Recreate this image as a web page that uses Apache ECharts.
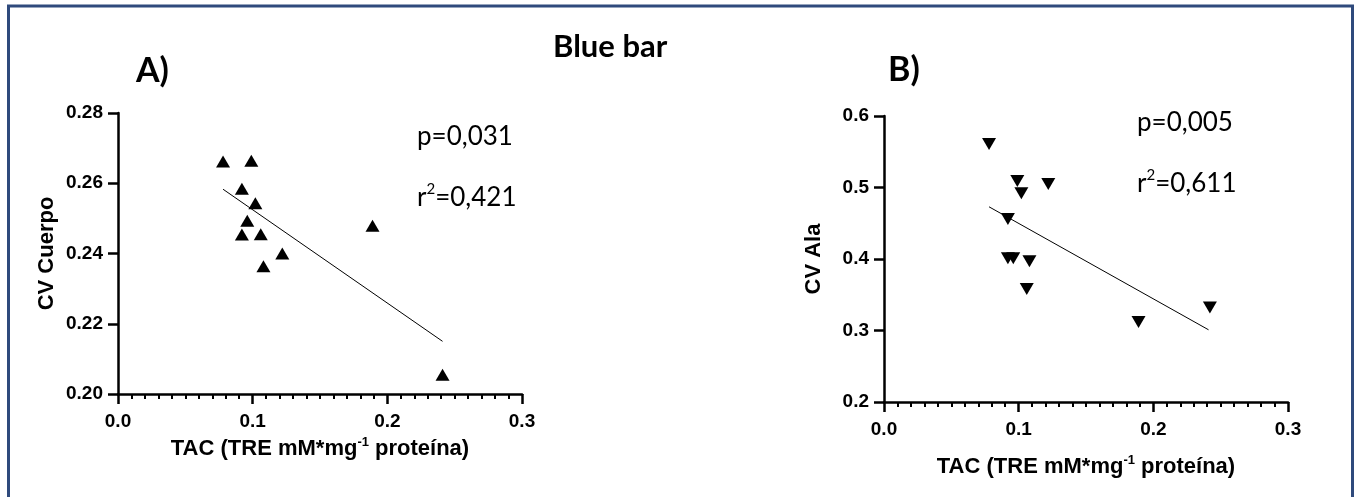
<!DOCTYPE html>
<html>
<head>
<meta charset="utf-8">
<script src="https://cdn.jsdelivr.net/npm/echarts@6/dist/echarts.min.js"></script>
<style>
  html, body { margin: 0; padding: 0; background: #fff; }
  #chart { width: 1360px; height: 497px; }
</style>
</head>
<body>
<div id="chart"></div>
<script>
// panel A: TAC vs CV Cuerpo
const tacA = [0.078, 0.099, 0.092, 0.102, 0.096, 0.092, 0.106, 0.122, 0.108, 0.189, 0.241];
const cvCuerpo = [0.2662, 0.2664, 0.2584, 0.2543, 0.2493, 0.2454, 0.2455, 0.2400, 0.2364, 0.2479, 0.2055];
const fitAx = [0.078, 0.241];
const fitAy = [0.2583, 0.2150];

// panel B: TAC vs CV Ala
const tacB = [0.078, 0.099, 0.102, 0.122, 0.092, 0.092, 0.096, 0.108, 0.106, 0.189, 0.242];
const cvAla = [0.561, 0.509, 0.492, 0.505, 0.456, 0.401, 0.401, 0.397, 0.358, 0.312, 0.332];
const fitBx = [0.078, 0.241];
const fitBy = [0.473, 0.301];

const xTicks = [0.0, 0.1, 0.2, 0.3];
const yTicksA = [0.20, 0.22, 0.24, 0.26, 0.28];
const yTicksB = [0.2, 0.3, 0.4, 0.5, 0.6];

const statsA = ['p=0,031', '0,421'];
const statsB = ['p=0,005', '0,611'];

const chart = echarts.init(document.getElementById('chart'));

const axisFont = '"Liberation Sans", Arial, sans-serif';
const noteFont = 'Lato, sans-serif';

function xAxisOf(gridIndex, gap) {
  return {
    gridIndex: gridIndex,
    type: 'value',
    min: xTicks[0],
    max: xTicks[xTicks.length - 1],
    interval: 0.1,
    splitLine: { show: false },
    axisLine: { lineStyle: { color: '#000', width: 2.5 } },
    axisTick: { length: 10, lineStyle: { color: '#000', width: 2.5 } },
    minorTick: { show: true, splitNumber: 10, length: 5, lineStyle: { color: '#000', width: 2 } },
    axisLabel: {
      color: '#000', fontFamily: axisFont, fontWeight: 'bold', fontSize: 19, margin: 18,
      formatter: v => v.toFixed(1)
    },
    name: '{a|TAC (TRE mM*mg}{s|-1}{a| proteína)}',
    nameLocation: 'middle',
    nameGap: gap,
    nameTextStyle: {
      rich: {
        a: { fontFamily: axisFont, fontWeight: 'bold', fontSize: 22, color: '#000', lineHeight: 26 },
        s: { fontFamily: axisFont, fontWeight: 'bold', fontSize: 13, color: '#000', verticalAlign: 'top', lineHeight: 26 }
      }
    }
  };
}

function yAxisOf(gridIndex, ticks, step, digits, name, gap) {
  return {
    gridIndex: gridIndex,
    type: 'value',
    min: ticks[0],
    max: ticks[ticks.length - 1],
    interval: step,
    splitLine: { show: false },
    axisLine: { show: true, lineStyle: { color: '#000', width: 2.5 } },
    axisTick: { show: true, length: 10, lineStyle: { color: '#000', width: 2.5 } },
    axisLabel: {
      color: '#000', fontFamily: axisFont, fontWeight: 'bold', fontSize: 19, margin: 15,
      formatter: v => v.toFixed(digits)
    },
    name: name,
    nameLocation: 'middle',
    nameGap: gap,
    nameTextStyle: { color: '#000', fontFamily: axisFont, fontWeight: 'bold', fontSize: 22 }
  };
}

function pairs(xs, ys) {
  return xs.map((x, i) => [x, ys[i]]);
}

function statText(x, y, lines) {
  return [
    {
      type: 'text', left: x, top: y,
      style: { text: lines[0], font: '26px ' + noteFont, fill: '#000' }
    },
    {
      type: 'text', left: x, top: y + 58,
      style: {
        text: '{a|r}{s|2}{a|=' + lines[1] + '}',
        rich: {
          a: { font: '26px ' + noteFont, fill: '#000', lineHeight: 32 },
          s: { font: '15px ' + noteFont, fill: '#000', verticalAlign: 'top', lineHeight: 32 }
        }
      }
    }
  ];
}

const option = {
  animation: false,
  backgroundColor: '#fff',
  grid: [
    { left: 118, top: 113, width: 404, height: 281 },
    { left: 884, top: 116, width: 404, height: 286 }
  ],
  xAxis: [xAxisOf(0, 40), xAxisOf(1, 52)],
  yAxis: [
    yAxisOf(0, yTicksA, 0.02, 2, 'CV Cuerpo', 60),
    yAxisOf(1, yTicksB, 0.1, 1, 'CV Ala', 59)
  ],
  series: [
    {
      type: 'scatter', xAxisIndex: 0, yAxisIndex: 0,
      symbol: 'triangle', symbolSize: [14, 12],
      itemStyle: { color: '#000', opacity: 1 },
      data: pairs(tacA, cvCuerpo)
    },
    {
      type: 'line', xAxisIndex: 0, yAxisIndex: 0,
      symbol: 'none', lineStyle: { color: '#000', width: 1 },
      data: pairs(fitAx, fitAy)
    },
    {
      type: 'scatter', xAxisIndex: 1, yAxisIndex: 1,
      symbol: 'triangle', symbolRotate: 180, symbolSize: [14, 12],
      itemStyle: { color: '#000', opacity: 1 },
      data: pairs(tacB, cvAla)
    },
    {
      type: 'line', xAxisIndex: 1, yAxisIndex: 1,
      symbol: 'none', lineStyle: { color: '#000', width: 1 },
      data: pairs(fitBx, fitBy)
    }
  ],
  graphic: [
    {
      type: 'rect', silent: true,
      shape: { x: 8.5, y: 6, width: 1344, height: 520 },
      style: { fill: 'none', stroke: '#2F4A7C', lineWidth: 3 }
    },
    {
      type: 'text', left: 553, top: 31,
      style: { text: 'Blue bar', font: 'bold 31px ' + noteFont, fill: '#000' }
    },
    {
      type: 'text', left: 136, top: 54,
      style: { text: 'A)', font: 'bold 34px ' + noteFont, fill: '#000' }
    },
    {
      type: 'text', left: 888, top: 53,
      style: { text: 'B)', font: 'bold 34px ' + noteFont, fill: '#000' }
    }
  ].concat(statText(417, 124, statsA), statText(1137, 110, statsB))
};

chart.setOption(option);
</script>
</body>
</html>
